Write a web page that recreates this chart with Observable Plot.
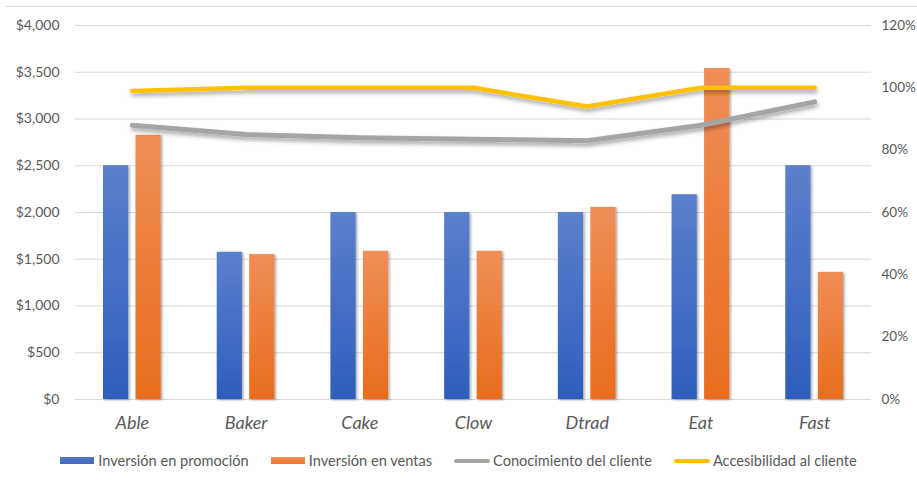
<!DOCTYPE html>
<html>
<head>
<meta charset="utf-8">
<script src="https://cdn.jsdelivr.net/npm/d3@7"></script>
<script src="https://cdn.jsdelivr.net/npm/@observablehq/plot@0.6"></script>
<style>
  html, body { margin: 0; padding: 0; background: #fff; }
  body { width: 917px; height: 480px; position: relative; overflow: hidden; font-family: Lato, "Liberation Sans", sans-serif; }
  #topline { position: absolute; top: 6px; left: 6px; right: 0; height: 1px; background: #d9d9d9; }
  #chart { position: absolute; top: 0; left: 0; }
  #legend { position: absolute; top: 452px; left: 0; width: 917px; display: flex; justify-content: center; align-items: center; font-size: 14.6px; color: #595959; }
  .item { display: flex; align-items: center; margin: 0 11px; }
  .sw { width: 34px; height: 7px; margin-right: 4px; }
  .ln { width: 36px; height: 4px; border-radius: 2px; margin-right: 3px; }
</style>
</head>
<body>
<div id="topline"></div>
<div id="chart"></div>
<div id="legend"></div>
<script>
const categories = ["Able", "Baker", "Cake", "Clow", "Dtrad", "Eat", "Fast"];
const promocion = [2500, 1575, 2000, 2000, 2000, 2190, 2500];
const ventas = [2825, 1550, 1585, 1585, 2055, 3540, 1360];
const conocimiento = [0.88, 0.85, 0.84, 0.835, 0.83, 0.88, 0.955];
const accesibilidad = [0.99, 1.0, 1.0, 1.0, 0.94, 1.0, 1.0];
const leftTicks = [0, 500, 1000, 1500, 2000, 2500, 3000, 3500, 4000];
const rightTicks = [0, 0.2, 0.4, 0.6, 0.8, 1.0, 1.2];
const seriesNames = ["Inversión en promoción", "Inversión en ventas", "Conocimiento del cliente", "Accesibilidad al cliente"];

const yMax = 4000, pMax = 1.2;
const toY = p => p / pMax * yMax;

const rows = categories.map((c, i) => ({
  cat: c, prom: promocion[i], vent: ventas[i], con: conocimiento[i], acc: accesibilidad[i]
}));

const textColor = "#595959";

const plot = Plot.plot({
  width: 917,
  height: 440,
  marginLeft: 75,
  marginRight: 46,
  marginTop: 25,
  marginBottom: 41,
  style: { fontFamily: "Lato, 'Liberation Sans', sans-serif", fontSize: "14px", color: textColor, background: "transparent" },
  x: { domain: categories, padding: 0, round: false, label: null },
  y: { domain: [0, yMax], label: null },
  marks: [
    Plot.gridY(leftTicks, { stroke: "#d9d9d9", strokeOpacity: 1, strokeWidth: 1 }),
    Plot.axisY(leftTicks, { anchor: "left", tickSize: 0, tickPadding: 16, label: null, tickFormat: d => "$" + d3.format(",")(d), fill: textColor, fontSize: 14 }),
    Plot.axisY(rightTicks.map(toY), { anchor: "right", tickSize: 0, tickPadding: 10, label: null, tickFormat: d => Math.round(d / yMax * pMax * 100) + "%", fill: textColor, fontSize: 13.5 }),
    Plot.axisX({ tickSize: 0, tickPadding: 17, label: null, fontSize: 18, fontStyle: "italic", fill: textColor }),
    Plot.barY(rows, { x: "cat", y: "prom", fill: "url(#gBlue)", insetLeft: 28, insetRight: 60.5 }),
    Plot.barY(rows, { x: "cat", y: "vent", fill: "url(#gOrange)", insetLeft: 60.5, insetRight: 28 }),
    Plot.lineY(rows, { x: "cat", y: d => toY(d.con), stroke: "#A5A5A5", strokeWidth: 5, strokeLinecap: "round", strokeLinejoin: "round" }),
    Plot.lineY(rows, { x: "cat", y: d => toY(d.acc), stroke: "#FFC000", strokeWidth: 4.5, strokeLinecap: "round", strokeLinejoin: "round" })
  ]
});

const svg = d3.select(plot);
const defs = svg.insert("defs", ":first-child");
const gb = defs.append("linearGradient").attr("id", "gBlue").attr("x1", 0).attr("y1", 0).attr("x2", 0).attr("y2", 1);
gb.append("stop").attr("offset", "0%").attr("stop-color", "#5B80CC");
gb.append("stop").attr("offset", "100%").attr("stop-color", "#2E5EBC");
const go = defs.append("linearGradient").attr("id", "gOrange").attr("x1", 0).attr("y1", 0).attr("x2", 0).attr("y2", 1);
go.append("stop").attr("offset", "0%").attr("stop-color", "#F08E58");
go.append("stop").attr("offset", "100%").attr("stop-color", "#E86D1C");
const fb = defs.append("filter").attr("id", "shBar").attr("x", "-20%").attr("y", "-5%").attr("width", "150%").attr("height", "115%");
fb.append("feDropShadow").attr("dx", 1.5).attr("dy", 1).attr("stdDeviation", 1.2).attr("flood-color", "#000").attr("flood-opacity", 0.35);
const fl = defs.append("filter").attr("id", "shLine").attr("x", "-5%").attr("y", "-50%").attr("width", "110%").attr("height", "200%");
fl.append("feDropShadow").attr("dx", 1).attr("dy", 3).attr("stdDeviation", 2).attr("flood-color", "#000").attr("flood-opacity", 0.35);

svg.selectAll("g[aria-label='bar'] rect").attr("filter", "url(#shBar)");
svg.selectAll("g[aria-label='line']").attr("filter", "url(#shLine)");

document.getElementById("chart").appendChild(plot);

const legend = document.getElementById("legend");
const swatches = [
  { type: "sw", color: "linear-gradient(#4F76C8, #3F69BF)" },
  { type: "sw", color: "linear-gradient(#F08A50, #EC7A30)" },
  { type: "ln", color: "#A5A5A5" },
  { type: "ln", color: "#FFC000" }
];
seriesNames.forEach((name, i) => {
  const it = document.createElement("div");
  it.className = "item";
  const s = document.createElement("div");
  s.className = swatches[i].type;
  s.style.background = swatches[i].color;
  it.appendChild(s);
  const t = document.createElement("span");
  t.textContent = name;
  it.appendChild(t);
  legend.appendChild(it);
});
</script>
</body>
</html>
